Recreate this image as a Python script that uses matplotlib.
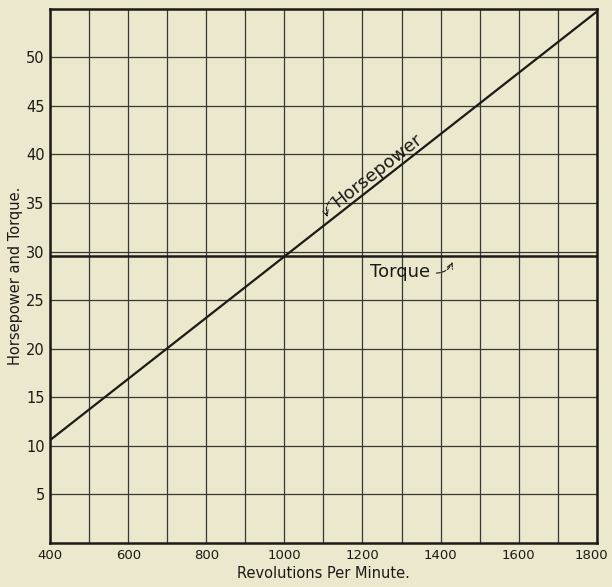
import numpy as np
import matplotlib.pyplot as plt
import matplotlib.transforms as mtransforms

# values
rpm = [400, 1800]
horsepower = [10.6, 54.7]
torque = [29.5, 29.5]
x_ticks = [400, 600, 800, 1000, 1200, 1400, 1600, 1800]
y_ticks = [5, 10, 15, 20, 25, 30, 35, 40, 45, 50]

paper = '#ebe8cd'
ink = '#1c1a16'

plt.rcParams.update({
    'font.family': 'DejaVu Sans',
    'font.size': 10,
})

fig = plt.figure(figsize=(6.12, 5.87), dpi=100, facecolor=paper)
ax = fig.add_axes([0.082, 0.075, 0.893, 0.91])
ax.set_facecolor(paper)

ax.set_xlim(400, 1800)
ax.set_ylim(0, 55)
ax.set_xticks(x_ticks)
ax.set_yticks(y_ticks)
ax.set_xticks(np.arange(400, 1801, 100), minor=True)
ax.tick_params(which='both', length=0, colors=ink, pad=4)
ax.tick_params(axis='x', labelsize=9.5)
ax.tick_params(axis='y', labelsize=10.5)
ax.grid(which='both', color='#3a3832', linewidth=0.9)
ax.set_axisbelow(True)
for s in ax.spines.values():
    s.set_linewidth(1.8)
    s.set_color(ink)

# keep the 1800 label inside the figure edge
last = ax.get_xticklabels()[-1]
last.set_transform(last.get_transform() +
                   mtransforms.ScaledTranslation(-5 / 100, 0, fig.dpi_scale_trans))

ax.plot(rpm, horsepower, color=ink, linewidth=1.6)
ax.plot(rpm, torque, color=ink, linewidth=1.8)

ax.set_xlabel('Revolutions Per Minute.', color=ink, fontsize=10.5, labelpad=3)
ax.set_ylabel('Horsepower and Torque.', color=ink, fontsize=10.5, labelpad=2)

# annotations
ax.text(1238, 38.3, 'Horsepower', rotation=38, ha='center', va='center',
        fontsize=13, color=ink, rotation_mode='anchor')
ax.annotate('', xy=(1113, 33.3), xytext=(1130, 35.8),
            arrowprops=dict(arrowstyle='->', linestyle='--', color=ink, lw=0.8,
                            connectionstyle='arc3,rad=0.4'))
ax.text(1297, 27.9, 'Torque', ha='center', va='center', fontsize=13, color=ink)
ax.annotate('', xy=(1433, 29.2), xytext=(1382, 27.8),
            arrowprops=dict(arrowstyle='->', linestyle='--', color=ink, lw=0.8,
                            connectionstyle='arc3,rad=0.4'))

fig.savefig('out.png', dpi=100, facecolor=paper)
